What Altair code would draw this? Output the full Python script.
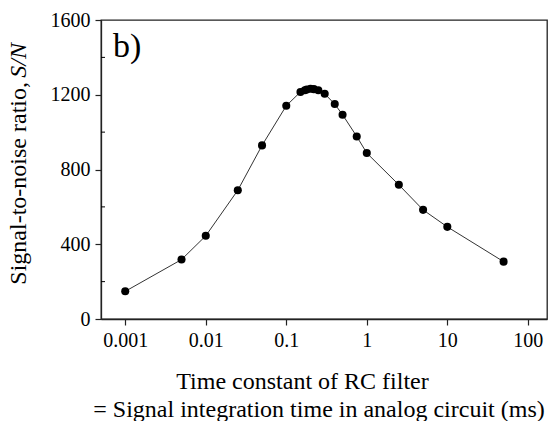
import altair as alt
import pandas as pd

# Data
tau_ms = [0.001, 0.005, 0.01, 0.025, 0.05, 0.1, 0.15, 0.17, 0.18, 0.2, 0.22, 0.25,
          0.3, 0.4, 0.5, 0.75, 1.0, 2.5, 5, 10, 50]
snr = [148, 318, 445, 689, 929, 1141, 1215, 1224, 1228, 1232, 1230, 1224,
       1205, 1150, 1093, 977, 888, 718, 584, 493, 307]
x_ticks = [0.001, 0.01, 0.1, 1, 10, 100]
y_ticks = [0, 400, 800, 1200, 1600]
y_minor = [200, 600, 1000, 1400]

FONT = "'Times New Roman', 'Liberation Serif', 'DejaVu Serif', serif"
W, H = 446, 299

df = pd.DataFrame({"tau": tau_ms, "snr": snr})

x_enc = alt.X("tau:Q", scale=alt.Scale(type="log", domain=[0.0005, 173]),
              axis=alt.Axis(values=x_ticks, format="~g", title=None, grid=False,
                            tickSize=6, labelPadding=5, labelFont=FONT,
                            labelFontSize=20, labelColor="black"))
y_scale = alt.Scale(domain=[0, 1600], nice=False)
y_axis = alt.Axis(values=y_ticks, format="d", title=None, grid=False,
                  tickSize=6, labelPadding=5, labelFont=FONT,
                  labelFontSize=20, labelColor="black")

line = alt.Chart(df).mark_line(color="#333333", strokeWidth=1).encode(
    x=x_enc, y=alt.Y("snr:Q", scale=y_scale, axis=y_axis))
pts = alt.Chart(df).mark_circle(size=65, color="black", opacity=1).encode(
    x=x_enc, y=alt.Y("snr:Q", scale=y_scale, axis=y_axis))

minor = alt.Chart(pd.DataFrame({"snr": y_minor})).mark_rule(color="black", strokeWidth=1).encode(
    y=alt.Y("snr:Q", scale=y_scale, axis=y_axis),
    x=alt.value(0), x2=alt.value(4))

def label(text, x, y, size, angle=0, align="center", baseline="middle", style="normal"):
    return alt.Chart(pd.DataFrame({"t": [text]})).mark_text(
        font=FONT, fontSize=size, color="black", angle=angle, align=align,
        baseline=baseline, fontStyle=style).encode(
        text="t:N", x=alt.value(x), y=alt.value(y))

panel = label("b)", 12, 37, 34, align="left", baseline="alphabetic")
ytitle1 = label("Signal-to-noise ratio,", -82, 62, 24, angle=270, align="right")
ytitle2 = label("S/N", -82, 23, 24, angle=270, align="right", style="italic")
xtitle1 = label("Time constant of RC filter", 201.5, 361.5, 24)
xtitle2 = label("= Signal integration time in analog circuit (ms)", 218, 390, 24)

chart = alt.layer(minor, line, pts, panel, ytitle1, ytitle2, xtitle1, xtitle2).properties(
    width=W, height=H,
    autosize=alt.AutoSizeParams(type="none"),
    padding={"left": 101, "top": 20, "right": 1, "bottom": 102},
    background="white",
).configure_view(stroke="#222222", strokeWidth=1.3).configure_axis(
    labelFont=FONT, labelFontSize=20, labelColor="black",
    domainColor="#222222", tickColor="#222222", domainWidth=1.3, tickWidth=1.2,
)

chart.save("out.html", embed_options={"renderer": "svg", "actions": False})
